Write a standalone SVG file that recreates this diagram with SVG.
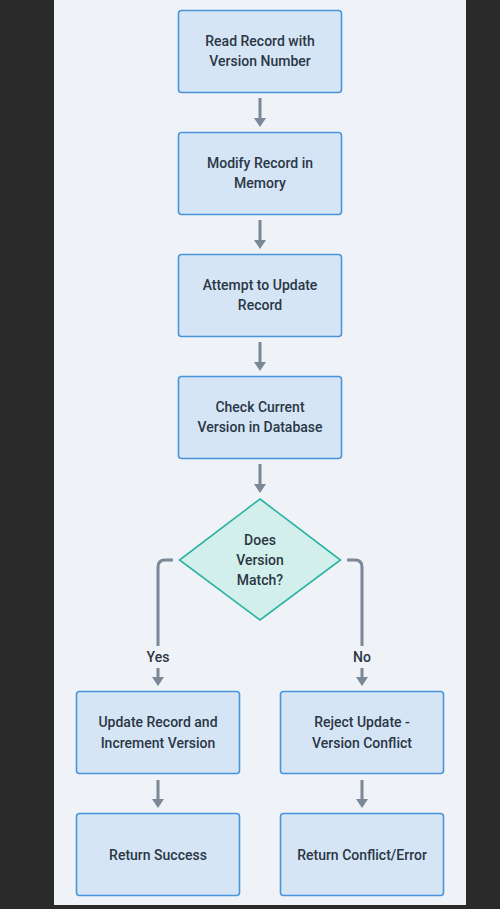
<svg xmlns="http://www.w3.org/2000/svg" width="500" height="909" viewBox="0 0 500 909">
<defs>
<style>
.box{fill:#d5e5f6;stroke:#4a94dc;stroke-width:1.6}
.dia{fill:#d2efeb;stroke:#2bb3a1;stroke-width:1.6}
.t{font-family:Roboto,"Liberation Sans",Arial,sans-serif;font-weight:500;font-size:14px;fill:#2b3745;text-anchor:middle;dominant-baseline:central}
.c{fill:none;stroke:#7a8897;stroke-width:3}
.h{fill:#7a8897}
</style>
</defs>
<rect x="0" y="0" width="500" height="909" fill="#2a2a2a"/>
<rect x="54" y="0" width="412" height="905" fill="#eff3f7"/>
<g id="connectors">
<line class="c" x1="260" y1="98" x2="260" y2="119"/>
<path class="h" d="M254,118 L266,118 L260,127 Z"/>
<line class="c" x1="260" y1="220" x2="260" y2="241"/>
<path class="h" d="M254,240 L266,240 L260,249 Z"/>
<line class="c" x1="260" y1="342" x2="260" y2="363"/>
<path class="h" d="M254,362 L266,362 L260,371 Z"/>
<line class="c" x1="260" y1="464" x2="260" y2="485"/>
<path class="h" d="M254,484 L266,484 L260,493 Z"/>
<path class="c" d="M173,560 L165,560 Q158,560 158,567 L158,646"/>
<line class="c" x1="158" y1="668" x2="158" y2="678"/>
<path class="h" d="M152,677 L164,677 L158,686 Z"/>
<text class="t" x="158" y="657">Yes</text>
<path class="c" d="M347,560 L355,560 Q362,560 362,567 L362,646"/>
<line class="c" x1="362" y1="668" x2="362" y2="678"/>
<path class="h" d="M356,677 L368,677 L362,686 Z"/>
<text class="t" x="362" y="657">No</text>
<line class="c" x1="158" y1="780" x2="158" y2="800"/>
<path class="h" d="M152,799 L164,799 L158,808 Z"/>
<line class="c" x1="362" y1="780" x2="362" y2="800"/>
<path class="h" d="M356,799 L368,799 L362,808 Z"/>
</g>
<g id="n1"><rect class="box" x="178.5" y="10.5" width="163" height="82" rx="3"/><text class="t" x="260" y="41">Read Record with</text><text class="t" x="260" y="61">Version Number</text></g>
<g id="n2"><rect class="box" x="178.5" y="132.5" width="163" height="82" rx="3"/><text class="t" x="260" y="163">Modify Record in</text><text class="t" x="260" y="183">Memory</text></g>
<g id="n3"><rect class="box" x="178.5" y="254.5" width="163" height="82" rx="3"/><text class="t" x="260" y="285">Attempt to Update</text><text class="t" x="260" y="305">Record</text></g>
<g id="n4"><rect class="box" x="178.5" y="376.5" width="163" height="82" rx="3"/><text class="t" x="260" y="407">Check Current</text><text class="t" x="260" y="427">Version in Database</text></g>
<g id="n5"><path class="dia" d="M260,499 L340.5,560 L260,620 L179.5,560 Z"/><text class="t" x="260" y="540">Does</text><text class="t" x="260" y="560">Version</text><text class="t" x="260" y="580">Match?</text></g>
<g id="n6"><rect class="box" x="76.5" y="691.5" width="163" height="82" rx="3"/><text class="t" x="158" y="722">Update Record and</text><text class="t" x="158" y="743">Increment Version</text></g>
<g id="n7"><rect class="box" x="280.5" y="691.5" width="163" height="82" rx="3"/><text class="t" x="362" y="722">Reject Update -</text><text class="t" x="362" y="743">Version Conflict</text></g>
<g id="n8"><rect class="box" x="76.5" y="813.5" width="163" height="82" rx="3"/><text class="t" x="158" y="855">Return Success</text></g>
<g id="n9"><rect class="box" x="280.5" y="813.5" width="163" height="82" rx="3"/><text class="t" x="362" y="855">Return Conflict/Error</text></g>
</svg>
